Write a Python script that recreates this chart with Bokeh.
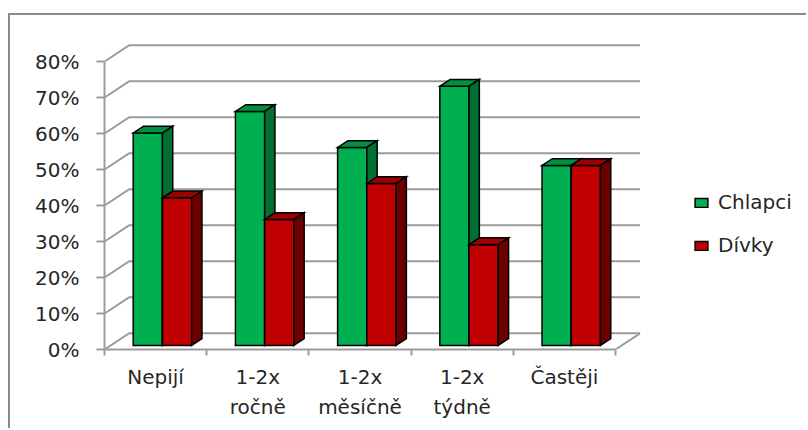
from bokeh.plotting import figure
from bokeh.models import FixedTicker, Legend, LegendItem, Range1d
from bokeh.embed import file_html
from bokeh.resources import INLINE

# --- data -------------------------------------------------------------
categories = ["Nepijí", "1-2x\nročně", "1-2x\nměsíčně", "1-2x\ntýdně", "Častěji"]
chlapci = [59, 65, 55, 72, 50]
divky = [41, 35, 45, 28, 50]
y_ticks = [0, 10, 20, 30, 40, 50, 60, 70, 80]
series_names = ["Chlapci", "Dívky"]

# --- 3D look, expressed in data units -------------------------------
DX, DY = 0.24, 4.5        # depth of the floor / side wall
F0, FD = 0.25, 0.42       # bar front plane and bar depth (fractions of floor depth)
GAP, BW = 0.221, 0.286    # left gap inside a category, width of one bar

PX_PER_CAT, PX_PER_PCT = 102.2, 3.6
FRAME_W, FRAME_H = 704, 319

FONT = "DejaVu Sans"
FONT_SIZE = "20px"
TEXT = "#262626"
GRID = "#9c9c9c"

p = figure(
    width=798, height=415,
    x_range=Range1d(0, FRAME_W / PX_PER_CAT),
    y_range=Range1d(0, FRAME_H / PX_PER_PCT),
    min_border_left=94, min_border_right=0, min_border_top=15, min_border_bottom=81,
    output_backend="svg", toolbar_location=None,
    background_fill_color="white", border_fill_color="white",
    styles={"margin-left": "8px", "margin-top": "13px",
            "border-left": "2px solid #8a8a8a", "border-top": "2px solid #8a8a8a"},
)
p.outline_line_color = None
p.xgrid.visible = False
p.ygrid.visible = False

# --- walls: side wall diagonals, back wall lines, floor edge ----------
gx, gy = [], []
for v in y_ticks:
    gx.append([0, DX, DX + len(categories)])
    gy.append([v, v + DY, v + DY])
gx.append([len(categories), len(categories) + DX])
gy.append([0, DY])
p.multi_line(gx, gy, line_color=GRID, line_width=2)

# --- bars -------------------------------------------------------------
def bar_faces(values, k):
    front, top, side = ([], []), ([], []), ([], [])
    bx, by = FD * DX, FD * DY
    for i, v in enumerate(values):
        x0 = i + F0 * DX + GAP + k * BW
        x1 = x0 + BW
        yb = F0 * DY
        yt = v + F0 * DY
        front[0].append([x0, x1, x1, x0]); front[1].append([yb, yb, yt, yt])
        top[0].append([x0, x1, x1 + bx, x0 + bx]); top[1].append([yt, yt, yt + by, yt + by])
        side[0].append([x1, x1 + bx, x1 + bx, x1]); side[1].append([yb, yb + by, yt + by, yt])
    return front, top, side

palettes = [("#00B050", "#00903F", "#006F30"), ("#C00000", "#9C0000", "#6C0000")]
front_renderers = []
for k, (values, cols) in enumerate(zip([chlapci, divky], palettes)):
    front, top, side = bar_faces(values, k)
    r = p.patches(front[0], front[1], fill_color=cols[0], line_color="black",
                  line_width=1.5, line_join="miter")
    p.patches(top[0], top[1], fill_color=cols[1], line_color="black",
              line_width=1.5, line_join="miter")
    p.patches(side[0], side[1], fill_color=cols[2], line_color="black",
              line_width=1.5, line_join="miter")
    front_renderers.append(r)

# --- axes -------------------------------------------------------------
xa = p.xaxis[0]
xa.ticker = FixedTicker(ticks=[i + 0.5 for i in range(len(categories))],
                        minor_ticks=list(range(len(categories) + 1)))
xa.major_label_overrides = {i + 0.5: c for i, c in enumerate(categories)}
xa.bounds = (0, len(categories))
xa.axis_line_color = GRID
xa.axis_line_width = 2
xa.major_tick_line_color = None
xa.major_tick_out = 6
xa.major_tick_in = 0
xa.minor_tick_line_color = GRID
xa.minor_tick_line_width = 2
xa.minor_tick_out = 6
xa.minor_tick_in = 0
xa.major_label_standoff = 9
xa.major_label_text_font = FONT
xa.major_label_text_font_size = FONT_SIZE
xa.major_label_text_color = TEXT
xa.major_label_text_line_height = 1.25

ya = p.yaxis[0]
ya.ticker = FixedTicker(ticks=y_ticks)
ya.major_label_overrides = {v: f"{v}%" for v in y_ticks}
ya.bounds = (0, 80)
ya.axis_line_color = GRID
ya.axis_line_width = 2
ya.major_tick_line_color = GRID
ya.major_tick_line_width = 2
ya.major_tick_out = 8
ya.major_tick_in = 0
ya.minor_tick_line_color = None
ya.major_label_standoff = 17
ya.major_label_text_font = FONT
ya.major_label_text_font_size = FONT_SIZE
ya.major_label_text_color = TEXT

# --- legend -----------------------------------------------------------
legend = Legend(
    items=[LegendItem(label=n, renderers=[r]) for n, r in zip(series_names, front_renderers)],
    location=(589, 92),
    glyph_width=16, glyph_height=11, label_height=22, spacing=19,
    label_standoff=9, padding=0, margin=0,
    label_text_font=FONT, label_text_font_size=FONT_SIZE, label_text_color=TEXT,
    border_line_color=None, background_fill_alpha=0,
)
p.add_layout(legend)

open("out.html", "w").write(file_html(p, INLINE))
